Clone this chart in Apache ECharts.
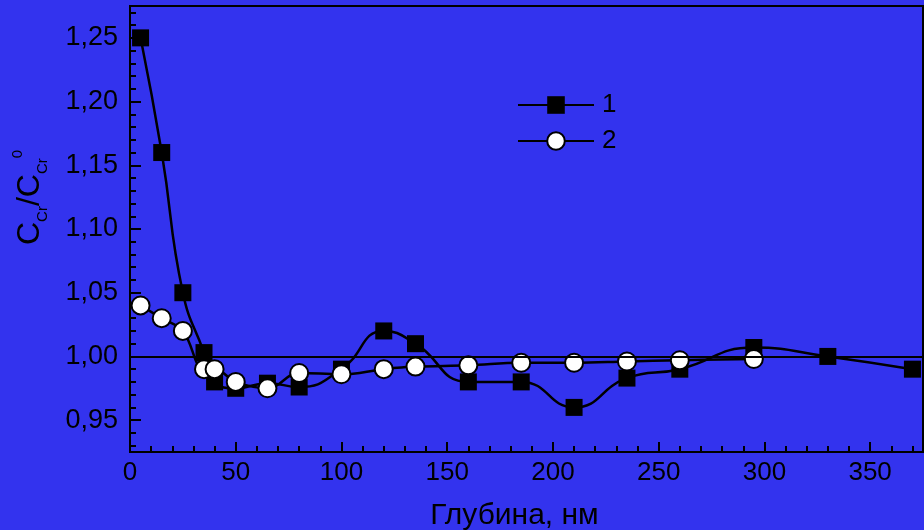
<!DOCTYPE html>
<html>
<head>
<meta charset="utf-8">
<script src="https://cdn.jsdelivr.net/npm/echarts@6/dist/echarts.min.js"></script>
<style>
  html, body { margin: 0; padding: 0; background: #3333ee; }
  #chart { width: 924px; height: 530px; }
</style>
</head>
<body>
<div id="chart"></div>
<script>
// Depth profiles of the relative chromium concentration
const depth1 = [5, 15, 25, 35, 40, 50, 65, 80, 100, 120, 135, 160, 185, 210, 235, 260, 295, 330, 370];
const ratio1 = [1.25, 1.16, 1.05, 1.003, 0.98, 0.975, 0.979, 0.976, 0.99, 1.02, 1.01, 0.98, 0.98, 0.96, 0.983, 0.99, 1.007, 1.0, 0.99];
const depth2 = [5, 15, 25, 35, 40, 50, 65, 80, 100, 120, 135, 160, 185, 210, 235, 260, 295];
const ratio2 = [1.04, 1.03, 1.02, 0.99, 0.99, 0.98, 0.975, 0.987, 0.986, 0.99, 0.992, 0.993, 0.995, 0.995, 0.996, 0.997, 0.998];

// Axis ticks
const xMajor = [0, 50, 100, 150, 200, 250, 300, 350];
const xMinor = [10, 20, 30, 40, 60, 70, 80, 90, 110, 120, 130, 140, 160, 170, 180, 190, 210, 220, 230, 240, 260, 270, 280, 290, 310, 320, 330, 340, 360, 370];
const yMajor = [0.95, 1.0, 1.05, 1.1, 1.15, 1.2, 1.25];
const yMinor = [0.93, 0.94, 0.96, 0.97, 0.98, 0.99, 1.01, 1.02, 1.03, 1.04, 1.06, 1.07, 1.08, 1.09, 1.11, 1.12, 1.13, 1.14, 1.16, 1.17, 1.18, 1.19, 1.21, 1.22, 1.23, 1.24, 1.26, 1.27];

const FONT = '"Liberation Sans", Arial, Helvetica, sans-serif';
const INK = '#000';

const zip = (xs, ys) => xs.map((x, i) => [x, ys[i]]);

const chart = echarts.init(document.getElementById('chart'), null, { renderer: 'canvas' });

const baseX = {
  type: 'value', min: 0, max: 375,
  axisLine: { show: false }, axisLabel: { show: false }, axisTick: { show: false },
  splitLine: { show: false }
};
const baseY = {
  type: 'value', min: 0.925, max: 1.275,
  axisLine: { show: false }, axisLabel: { show: false }, axisTick: { show: false },
  splitLine: { show: false }
};

chart.setOption({
  animation: false,
  backgroundColor: '#3333ee',
  textStyle: { fontFamily: FONT, color: INK },
  grid: {
    left: 130, right: 1, top: 6, bottom: 78,
    outerBoundsMode: 'none', containLabel: false,
    show: true, borderColor: INK, borderWidth: 2, backgroundColor: '#3333ee'
  },
  legend: {
    left: 517, top: 92, orient: 'vertical', padding: 0,
    itemWidth: 76, itemHeight: 22, itemGap: 10,
    textStyle: { fontSize: 26, color: INK, fontFamily: FONT, padding: [0, 0, 0, 3] },
    data: ['1', '2']
  },
  xAxis: [
    Object.assign({}, baseX, {
      position: 'bottom',
      axisLine: { show: true, onZero: false, lineStyle: { color: INK, width: 2 } },
      axisTick: { show: true, inside: true, length: 10, lineStyle: { color: INK, width: 2 }, customValues: xMajor },
      axisLabel: { show: true, fontSize: 26, color: INK, fontFamily: FONT, margin: 8, customValues: xMajor },
      name: 'Глубина, нм',
      nameLocation: 'middle',
      nameGap: 49,
      nameTextStyle: { fontSize: 30, color: INK, fontFamily: FONT, padding: [0, 24, 0, 0] }
    }),
    Object.assign({}, baseX, {
      position: 'bottom',
      axisTick: { show: true, inside: true, length: 6, lineStyle: { color: INK, width: 2 }, customValues: xMinor }
    })
  ],
  yAxis: [
    Object.assign({}, baseY, {
      position: 'left',
      axisLine: { show: true, onZero: false, lineStyle: { color: INK, width: 2 } },
      axisTick: { show: true, inside: true, length: 11, lineStyle: { color: INK, width: 2 }, customValues: yMajor },
      axisLabel: {
        show: true, fontSize: 27, color: INK, fontFamily: FONT, margin: 12, customValues: yMajor,
        formatter: v => v.toFixed(2).replace('.', ',')
      },
      name: '{m|C}{s|Cr}{m|/C}{s|Cr}{p|0}',
      nameLocation: 'middle',
      nameGap: 80,
      nameRotate: 90,
      nameTextStyle: {
        padding: [0, 0, 0, 63],
        rich: {
          m: { fontSize: 32, lineHeight: 40, color: INK, fontFamily: FONT },
          s: { fontSize: 15, lineHeight: 26, verticalAlign: 'bottom', color: INK, fontFamily: FONT },
          p: { fontSize: 15, lineHeight: 15, verticalAlign: 'top', color: INK, fontFamily: FONT }
        }
      }
    }),
    Object.assign({}, baseY, {
      position: 'left',
      axisTick: { show: true, inside: true, length: 6, lineStyle: { color: INK, width: 2 }, customValues: yMinor }
    })
  ],
  series: [
    {
      name: '1', type: 'line', xAxisIndex: 0, yAxisIndex: 0,
      data: zip(depth1, ratio1),
      smooth: 0.5,
      symbol: 'rect', symbolSize: 17,
      lineStyle: { color: INK, width: 2.5 },
      itemStyle: { color: INK, borderColor: INK, borderWidth: 0 },
      z: 2
    },
    {
      name: '2', type: 'line', xAxisIndex: 0, yAxisIndex: 0,
      data: zip(depth2, ratio2),
      smooth: 0.4,
      symbol: 'circle', symbolSize: 18,
      lineStyle: { color: INK, width: 2.5 },
      itemStyle: { color: '#fff', borderColor: INK, borderWidth: 2 },
      z: 3,
      markLine: {
        silent: true, symbol: 'none', z: 6,
        label: { show: false },
        lineStyle: { color: INK, width: 2, type: 'solid' },
        data: [{ yAxis: 1 }]
      }
    }
  ]
});
</script>
</body>
</html>
